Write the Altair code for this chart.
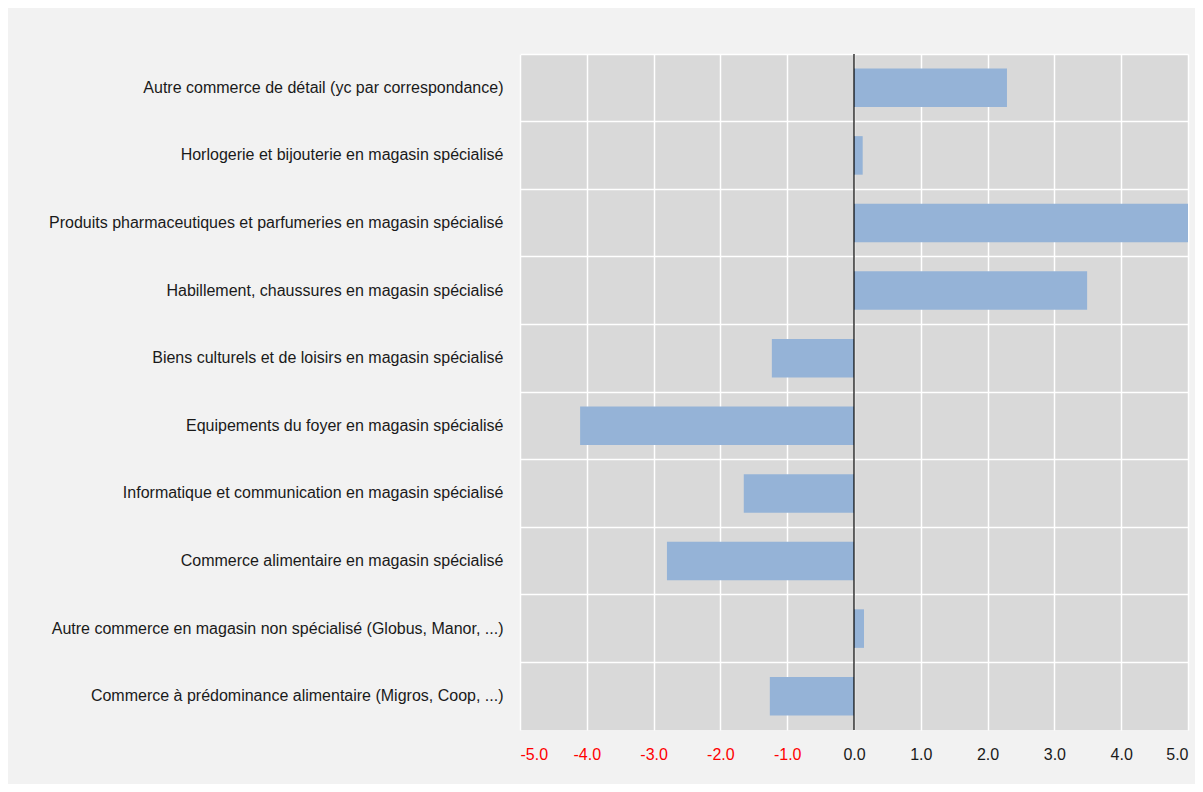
import altair as alt
import pandas as pd

categories = [
    "Autre commerce de détail (yc par correspondance)",
    "Horlogerie et  bijouterie en magasin spécialisé",
    "Produits pharmaceutiques et parfumeries en magasin spécialisé",
    "Habillement, chaussures en magasin spécialisé",
    "Biens culturels et de loisirs en magasin spécialisé",
    "Equipements du foyer en magasin spécialisé",
    "Informatique et communication en magasin spécialisé",
    "Commerce alimentaire en magasin spécialisé",
    "Autre commerce en magasin non spécialisé (Globus, Manor, ...)",
    "Commerce à prédominance alimentaire (Migros, Coop, ...)",
]
values = [2.29, 0.13, 5.3, 3.49, -1.23, -4.10, -1.65, -2.80, 0.15, -1.26]
x_ticks = [-5, -4, -3, -2, -1, 0, 1, 2, 3, 4, 5]

df = pd.DataFrame({"cat": categories, "val": values})
FONT = "Liberation Sans Narrow, Arial Narrow, Liberation Sans, Arial, sans-serif"

bars = alt.Chart(df).mark_bar(color="#95b3d7", clip=True, height={"band": 0.57}).encode(
    y=alt.Y("cat:N", sort=None, title=None,
            scale=alt.Scale(paddingInner=0, paddingOuter=0),
            axis=alt.Axis(bandPosition=0, grid=True, gridColor="white", gridWidth=1.5,
                          ticks=False, domain=False, labelFont=FONT, labelFontSize=16,
                          labelColor="#1a1a1a", labelPadding=17, labelLimit=600)),
    x=alt.X("val:Q", title=None,
            scale=alt.Scale(domain=[-5, 5], nice=False),
            axis=alt.Axis(values=x_ticks, grid=True, gridColor="white",
                          gridWidth=1.5, ticks=False, domain=False, labelFont=FONT,
                          labelFontSize=16, labelPadding=16,
                          labelExpr="(datum.value < 0 ? '-' : '') + format(abs(datum.value), '.1f')",
                          labelColor=alt.ExprRef("datum.value < 0 ? '#ff0000' : '#1a1a1a'"))),
)

zero = alt.Chart(pd.DataFrame({"z": [0]})).mark_rule(color="black", strokeWidth=1.2).encode(
    x=alt.X("z:Q")
)

chart = (bars + zero).properties(
    width=668, height=676,
    background="#f2f2f2",
    padding={"left": 512, "top": 46, "right": 7, "bottom": 54},
    autosize=alt.AutoSizeParams(type="none"),
).configure_view(fill="#d9d9d9", stroke=None)

chart.save("out.html", embed_options={"renderer": "svg", "actions": False})
